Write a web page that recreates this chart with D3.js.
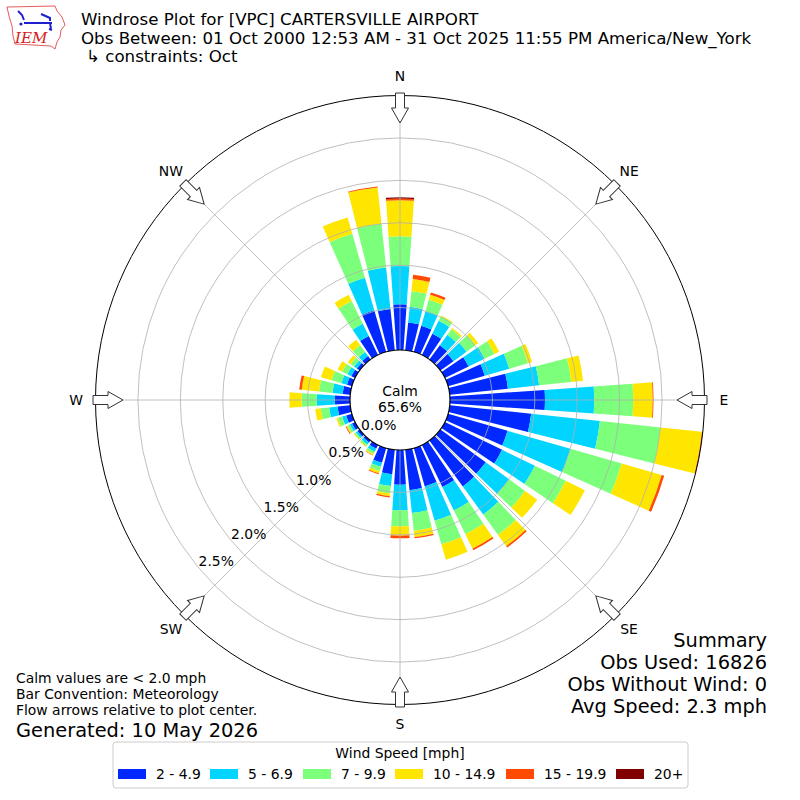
<!DOCTYPE html>
<html>
<head>
<meta charset="utf-8">
<script src="https://cdn.jsdelivr.net/npm/d3@7"></script>
<style>
  body { margin: 0; background: #fff; }
  svg { font-family: "DejaVu Sans", sans-serif; }
</style>
</head>
<body>
<div id="wrapper"></div>
<script>
// wind directions (degrees, meteorological convention)
const directions = [0, 10, 20, 30, 40, 50, 60, 70, 80, 90, 100, 110, 120, 130, 140, 150, 160, 170,
                    180, 190, 200, 210, 220, 230, 240, 250, 260, 270, 280, 290, 300, 310, 320, 330, 340, 350]

// frequency [%] per speed bin, one value per direction
const speed2to5 = [0.54, 0.33, 0.32, 0.28, 0.21, 0.19, 0.31, 0.45, 0.69, 1.12, 0.965, 0.73, 0.75, 0.66, 0.67, 0.55, 0.47, 0.48,
                   0.41, 0.29, 0.18, 0.05, 0.03, 0.03, 0.04, 0.07, 0.15, 0.18, 0.09, 0.06, 0.05, 0.04, 0.05, 0.25, 0.51, 0.49]
const speed5to7 = [0.45, 0.185, 0.18, 0.17, 0.15, 0.19, 0.21, 0.30, 0.37, 0.58, 0.815, 0.77, 0.43, 0.34, 0.41, 0.31, 0.42, 0.27,
                   0.30, 0.14, 0.05, 0.04, 0.03, 0.025, 0.03, 0.05, 0.10, 0.21, 0.12, 0.07, 0.05, 0.04, 0.06, 0.16, 0.40, 0.49]
const speed7to10 = [0.35, 0.185, 0.14, 0.06, 0.08, 0.13, 0.13, 0.23, 0.38, 0.46, 0.72, 0.63, 0.405, 0.235, 0.295, 0.31, 0.29, 0.21,
                    0.19, 0.09, 0.05, 0.03, 0.025, 0.02, 0.03, 0.05, 0.10, 0.18, 0.16, 0.12, 0.07, 0.05, 0.10, 0.30, 0.54, 0.52]
const speed10to15 = [0.425, 0.145, 0.06, 0.01, 0.02, 0.04, 0.06, 0.05, 0.14, 0.23, 0.49, 0.49, 0.25, 0.175, 0.165, 0.19, 0.19, 0.075,
                     0.11, 0.03, 0.03, 0.015, 0.01, 0.01, 0.015, 0.02, 0.065, 0.145, 0.205, 0.13, 0.06, 0.04, 0.08, 0.08, 0.20, 0.43]
const speed15to20 = [0.02, 0.05, 0.03, 0, 0, 0, 0, 0, 0, 0.01, 0.015, 0.03, 0, 0, 0.02, 0.02, 0, 0.015,
                     0.03, 0.015, 0.01, 0.005, 0, 0, 0.01, 0, 0, 0, 0.03, 0, 0, 0, 0, 0, 0, 0.01]
const speed20plus = [0.015, 0, 0, 0, 0, 0, 0, 0, 0, 0, 0, 0, 0, 0, 0, 0, 0, 0,
                     0, 0, 0, 0, 0, 0, 0, 0, 0, 0, 0, 0, 0, 0, 0, 0, 0, 0]

const binLabels = ["2 - 4.9", "5 - 6.9", "7 - 9.9", "10 - 14.9", "15 - 19.9", "20+"]
const binColors = ["#0028ff", "#00d4ff", "#7cff7a", "#ffe600", "#ff4a00", "#800000"]

const radialTicks = [0, 0.5, 1.0, 1.5, 2.0, 2.5]
const compassLabels = ["N", "NE", "E", "SE", "S", "SW", "W", "NW"]
const compassAngles = [0, 45, 90, 135, 180, 225, 270, 315]

const titleLines = [
    "Windrose Plot for [VPC] CARTERSVILLE AIRPORT",
    "Obs Between: 01 Oct 2000 12:53 AM - 31 Oct 2025 11:55 PM America/New_York",
    "\u21b3 constraints: Oct"
]
const noteLines = ["Calm values are < 2.0 mph", "Bar Convention: Meteorology", "Flow arrows relative to plot center."]
const summaryLines = ["Summary", "Obs Used: 16826", "Obs Without Wind: 0", "Avg Speed: 2.3 mph"]
const calmPercent = "65.6%"

function drawRose() {
    const width = 800, height = 800
    const cx = 400, cy = 400
    const toRad = d => d * Math.PI / 180
    const fsSmall = 13.9, fsTitle = 16.67, fsBig = 19.4

    const svg = d3.select("#wrapper").append("svg")
        .attr("width", width)
        .attr("height", height)

    // radial scale: 0% sits on the calm circle
    const r = d3.scaleLinear().domain([0, 3]).range([50, 304.5])

    // stacked rows per direction
    const keys = ["b0", "b1", "b2", "b3", "b4", "b5"]
    const series = [speed2to5, speed5to7, speed7to10, speed10to15, speed15to20, speed20plus]
    const rows = directions.map((dir, i) => {
        const row = { dir: dir }
        keys.forEach((k, j) => row[k] = series[j][i])
        return row
    })
    const stacked = d3.stack().keys(keys)(rows)

    const color = d3.scaleOrdinal().domain(keys).range(binColors)

    svg.append("defs").append("clipPath")
        .attr("id", "roseClip")
        .append("circle")
        .attr("cx", cx).attr("cy", cy).attr("r", r(3))

    const rose = svg.append("g")
        .attr("transform", `translate(${cx},${cy})`)

    const bars = rose.append("g").attr("clip-path", "url(#roseClip)")
        .attr("transform", `translate(${-cx},${-cy})`)
        .append("g").attr("transform", `translate(${cx},${cy})`)

    const halfWidth = toRad(4)
    const arc = d3.arc()
        .innerRadius(d => r(d[0]))
        .outerRadius(d => r(d[1]))
        .startAngle(d => toRad(d.data.dir) - halfWidth)
        .endAngle(d => toRad(d.data.dir) + halfWidth)

    bars.selectAll("g.layer")
        .data(stacked)
        .join("g")
        .attr("class", "layer")
        .attr("fill", d => color(d.key))
        .selectAll("path")
        .data(d => d.filter(s => s[1] - s[0] > 0))
        .join("path")
        .attr("d", arc)

    // grid circles
    rose.selectAll("circle.grid")
        .data(radialTicks.slice(1))
        .join("circle")
        .attr("class", "grid")
        .attr("r", d => r(d))
        .attr("fill", "none")
        .attr("stroke", "#b0b0b0")
        .attr("stroke-width", 0.8)

    // spokes
    rose.selectAll("line.spoke")
        .data(compassAngles)
        .join("line")
        .attr("class", "spoke")
        .attr("x1", 0).attr("y1", 0)
        .attr("x2", d => r(3) * Math.sin(toRad(d)))
        .attr("y2", d => -r(3) * Math.cos(toRad(d)))
        .attr("stroke", "#b0b0b0")
        .attr("stroke-width", 0.8)

    // outer frame
    rose.append("circle")
        .attr("r", r(3))
        .attr("fill", "none")
        .attr("stroke", "black")
        .attr("stroke-width", 1)

    // calm circle
    rose.append("circle")
        .attr("r", r(0))
        .attr("fill", "white")
        .attr("stroke", "black")
        .attr("stroke-width", 1.2)

    rose.append("text")
        .attr("y", -4)
        .attr("text-anchor", "middle")
        .attr("font-size", fsSmall)
        .text("Calm")
    rose.append("text")
        .attr("y", 12)
        .attr("text-anchor", "middle")
        .attr("font-size", fsSmall)
        .text(calmPercent)

    // radial tick labels along 230 deg
    const labelAngle = toRad(230)
    rose.selectAll("text.rtick")
        .data(radialTicks)
        .join("text")
        .attr("class", "rtick")
        .attr("x", d => r(d) * Math.sin(labelAngle) + 17)
        .attr("y", d => -r(d) * Math.cos(labelAngle) - 7)
        .attr("text-anchor", "middle")
        .attr("dominant-baseline", "central")
        .attr("font-size", fsSmall)
        .text(d => d.toFixed(1) + "%")

    // flow arrows, pointing to the centre
    const arrowPts = [[-4.5, -307], [4.5, -307], [4.5, -292], [8.5, -292], [0, -277], [-8.5, -292], [-4.5, -292]]
    rose.selectAll("path.arrow")
        .data(compassAngles)
        .join("path")
        .attr("class", "arrow")
        .attr("d", d3.line()(arrowPts) + "Z")
        .attr("transform", d => `rotate(${d})`)
        .attr("fill", "white")
        .attr("stroke", "#333")
        .attr("stroke-width", 1)

    // compass labels
    rose.selectAll("text.compass")
        .data(compassLabels)
        .join("text")
        .attr("class", "compass")
        .attr("x", (d, i) => 324 * Math.sin(toRad(compassAngles[i])))
        .attr("y", (d, i) => -324 * Math.cos(toRad(compassAngles[i])))
        .attr("text-anchor", "middle")
        .attr("dominant-baseline", "central")
        .attr("font-size", fsSmall)
        .text(d => d)

    // titles
    svg.selectAll("text.title")
        .data(titleLines)
        .join("text")
        .attr("class", "title")
        .attr("x", (d, i) => i === 2 ? 86 : 81)
        .attr("y", (d, i) => [25, 43.5, 61.5][i])
        .attr("font-size", fsTitle)
        .text(d => d)

    // IEM logo
    const logo = svg.append("g")
    logo.append("path")
        .attr("d", "M7,7 L55,6 L57,11 L62,17 L65,25 L61,30 L60,37 L57,42 L55,49 L51,46 L15,44 L13,36 L12,26 L9,16 Z")
        .attr("fill", "white")
        .attr("stroke", "#e03030")
        .attr("stroke-width", 0.8)
    logo.append("path")
        .attr("d", "M24,23 L52,23 M18,11 L22,15 L24,20 M41,14 L50,18 L50,21 M50,23 L51,29 M49,29 L52,30")
        .attr("fill", "none")
        .attr("stroke", "#2020d0")
        .attr("stroke-width", 2)
    logo.append("circle").attr("cx", 21).attr("cy", 24).attr("r", 1.6).attr("fill", "#2020d0")
    logo.append("text")
        .attr("x", 15).attr("y", 43)
        .attr("font-family", "'DejaVu Serif', serif")
        .attr("font-style", "italic")
        .attr("font-size", 15)
        .attr("fill", "#d42020")
        .text("IEM")

    // notes bottom left
    svg.selectAll("text.note")
        .data(noteLines)
        .join("text")
        .attr("class", "note")
        .attr("x", 16)
        .attr("y", (d, i) => 683 + i * 16)
        .attr("font-size", fsSmall)
        .text(d => d)
    svg.append("text")
        .attr("x", 16).attr("y", 737)
        .attr("font-size", fsBig)
        .text("Generated: 10 May 2026")

    // summary bottom right
    svg.selectAll("text.summary")
        .data(summaryLines)
        .join("text")
        .attr("class", "summary")
        .attr("x", 767)
        .attr("y", (d, i) => 647 + i * 22)
        .attr("text-anchor", "end")
        .attr("font-size", fsBig)
        .text(d => d)

    // legend
    const legend = svg.append("g")
    legend.append("rect")
        .attr("x", 113).attr("y", 742)
        .attr("width", 575).attr("height", 46)
        .attr("rx", 3)
        .attr("fill", "white")
        .attr("stroke", "#cccccc")
    legend.append("text")
        .attr("x", 400).attr("y", 753)
        .attr("text-anchor", "middle")
        .attr("dominant-baseline", "central")
        .attr("font-size", fsSmall)
        .text("Wind Speed [mph]")

    const itemX = [118, 210, 303, 395, 506, 616]
    const items = legend.selectAll("g.item")
        .data(binLabels)
        .join("g")
        .attr("class", "item")
        .attr("transform", (d, i) => `translate(${itemX[i]},774)`)
    items.append("rect")
        .attr("x", 0).attr("y", -5)
        .attr("width", 28).attr("height", 10)
        .attr("fill", (d, i) => binColors[i])
    items.append("text")
        .attr("x", 38)
        .attr("dominant-baseline", "central")
        .attr("font-size", fsSmall)
        .text(d => d)
}

drawRose()
</script>
</body>
</html>
